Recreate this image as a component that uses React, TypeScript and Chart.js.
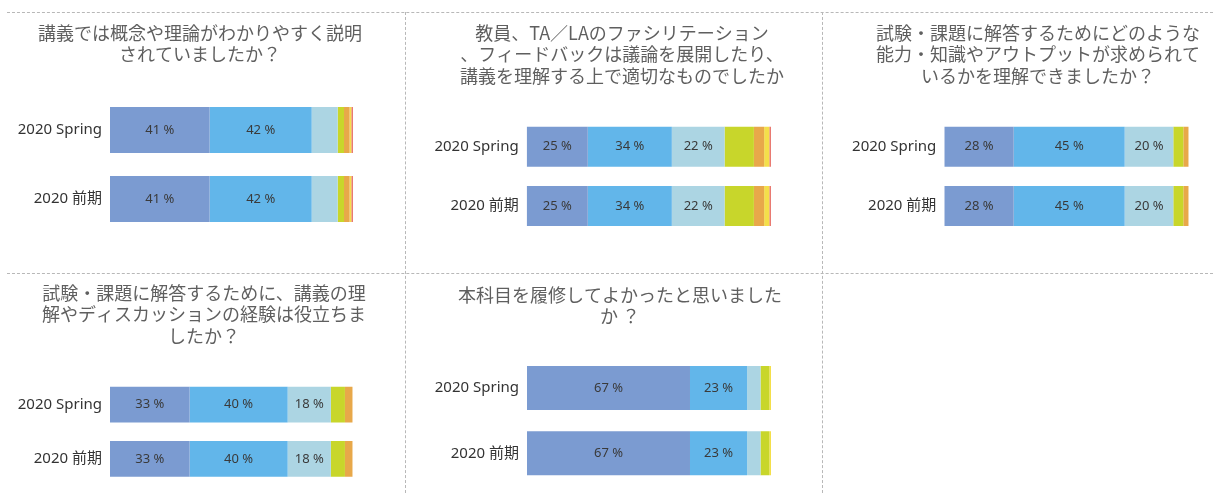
import React, { useEffect, useRef } from "react";
import { Chart, registerables } from "chart.js";

Chart.register(...registerables);

// ---- data ----
const categories = ["2020 Spring", "2020 前期"];
const seriesNames = ["s1", "s2", "s3", "s4", "s5", "s6", "s7"];
const seriesColors = ["#7b9bd1", "#62b6ea", "#acd5e3", "#c8d62b", "#e8a84a", "#f4df4a", "#e97a72"];

const title1 = ["講義では概念や理論がわかりやすく説明", "されていましたか？"];
const values1 = [41.0, 42.0, 10.7, 2.6, 2.3, 0.7, 0.7];

const title2 = ["教員、TA／LAのファシリテーション", "、フィードバックは議論を展開したり、", "講義を理解する上で適切なものでしたか"];
const values2 = [25.0, 34.4, 21.6, 12.0, 4.2, 2.1, 0.7];

const title3 = ["試験・課題に解答するためにどのような", "能力・知識やアウトプットが求められて", "いるかを理解できましたか？"];
const values3 = [28.4, 45.4, 19.9, 4.1, 2.2, 0, 0];

const title4 = ["試験・課題に解答するために、講義の理", "解やディスカッションの経験は役立ちま", "したか？"];
const values4 = [32.8, 40.4, 17.8, 5.8, 3.2, 0, 0];

const title5 = ["本科目を履修してよかったと思いました", "か ？"];
const values5 = [66.8, 23.4, 5.5, 3.6, 0, 0.7, 0];

const labelThreshold = 15;

type PanelCfg = {
  title: string[];
  values: number[];
  left: number;
  top: number;
  width: number;
  height: number;
  axisWidth: number;
  padTop: number;
  padRight: number;
  padBottom: number;
  titleX: number;
  titleY: number;
  barPct: number;
};

const panels: PanelCfg[] = [
  { title: title1, values: values1, left: 0, top: 0, width: 405, height: 270, axisWidth: 110, padTop: 95.5, padRight: 52, padBottom: 36.5, titleX: 200, titleY: 33, barPct: 46 / 69 },
  { title: title2, values: values2, left: 405, top: 0, width: 418, height: 270, axisWidth: 121.7, padTop: 117, padRight: 52, padBottom: 34.3, titleX: 217, titleY: 33, barPct: 40 / 59.3 },
  { title: title3, values: values3, left: 823, top: 0, width: 390, height: 270, axisWidth: 121.3, padTop: 117, padRight: 24.3, padBottom: 34.3, titleX: 215, titleY: 33, barPct: 40 / 59.3 },
  { title: title4, values: values4, left: 0, top: 273, width: 405, height: 230, axisWidth: 110, padTop: 104.6, padRight: 52.3, padBottom: 7.2, titleX: 204, titleY: 19.7, barPct: 39 / 59.1 },
  { title: title5, values: values5, left: 405, top: 273, width: 418, height: 230, axisWidth: 122, padTop: 82.3, padRight: 52, padBottom: 9, titleX: 215, titleY: 22, barPct: 46.6 / 69.35 },
];

const panelTitlePlugin = {
  id: "panelTitle",
  afterDraw(chart: any, _args: any, opts: any) {
    const ctx = chart.ctx;
    ctx.save();
    ctx.font = "18px 'Noto Sans CJK JP', sans-serif";
    ctx.fillStyle = "#5f5f5f";
    ctx.textAlign = "center";
    ctx.textBaseline = "middle";
    (opts.lines || []).forEach((line: string, i: number) => {
      ctx.fillText(line, opts.x, opts.y + i * 21.6);
    });
    ctx.restore();
  },
};

const segLabelPlugin = {
  id: "segLabels",
  afterDatasetsDraw(chart: any) {
    const ctx = chart.ctx;
    ctx.save();
    ctx.font = "13px 'Noto Sans', sans-serif";
    ctx.fillStyle = "#3a3a3a";
    ctx.textAlign = "center";
    ctx.textBaseline = "middle";
    chart.data.datasets.forEach((ds: any, i: number) => {
      const meta = chart.getDatasetMeta(i);
      meta.data.forEach((bar: any, j: number) => {
        const v = ds.data[j];
        if (v >= labelThreshold) {
          const cx = (bar.x + bar.base) / 2;
          ctx.fillText(Math.round(v) + " %", cx, bar.y);
        }
      });
    });
    ctx.restore();
  },
};

function Panel({ cfg }: { cfg: PanelCfg }) {
  const ref = useRef<HTMLCanvasElement>(null);
  useEffect(() => {
    if (!ref.current) return;
    const chart = new Chart(ref.current, {
      type: "bar",
      data: {
        labels: categories,
        datasets: seriesNames.map((n, i) => ({
          label: n,
          data: categories.map(() => cfg.values[i]),
          backgroundColor: seriesColors[i],
          borderWidth: 0,
          barPercentage: cfg.barPct,
          categoryPercentage: 1,
        })),
      },
      options: {
        indexAxis: "y",
        animation: false,
        responsive: false,
        maintainAspectRatio: false,
        layout: { padding: { left: 0, right: cfg.padRight, top: cfg.padTop, bottom: cfg.padBottom } },
        plugins: {
          legend: { display: false },
          tooltip: { enabled: false },
          title: { display: false },
          panelTitle: { lines: cfg.title, x: cfg.titleX, y: cfg.titleY },
        },
        scales: {
          x: { stacked: true, min: 0, max: 100, display: false },
          y: {
            stacked: true,
            grid: { display: false, drawTicks: false },
            border: { display: false },
            ticks: {
              color: "#333333",
              padding: 8,
              font: { family: "'Noto Sans', 'Noto Sans CJK JP', sans-serif", size: 15 },
            },
            afterFit: (s: any) => {
              s.width = cfg.axisWidth;
            },
          },
        },
      },
      plugins: [segLabelPlugin, panelTitlePlugin],
    } as any);
    return () => chart.destroy();
  }, [cfg]);
  return (
    <canvas
      ref={ref}
      width={cfg.width}
      height={cfg.height}
      style={{ position: "absolute", left: cfg.left, top: cfg.top, width: cfg.width, height: cfg.height }}
    />
  );
}

const dashColor = "#b8b8b8";

export default function App() {
  return (
    <div style={{ position: "fixed", left: 0, top: 0, width: 1213, height: 493, background: "#fff", overflow: "hidden" }}>
      {panels.map((p, i) => (
        <Panel key={i} cfg={p} />
      ))}
      <div style={{ position: "absolute", left: 7, top: 12, width: 1206, height: 0, borderTop: `1px dashed ${dashColor}` }} />
      <div style={{ position: "absolute", left: 7, top: 273, width: 1206, height: 0, borderTop: `1px dashed ${dashColor}` }} />
      <div style={{ position: "absolute", left: 405, top: 12, width: 0, height: 481, borderLeft: `1px dashed ${dashColor}` }} />
      <div style={{ position: "absolute", left: 822, top: 12, width: 0, height: 481, borderLeft: `1px dashed ${dashColor}` }} />
    </div>
  );
}
